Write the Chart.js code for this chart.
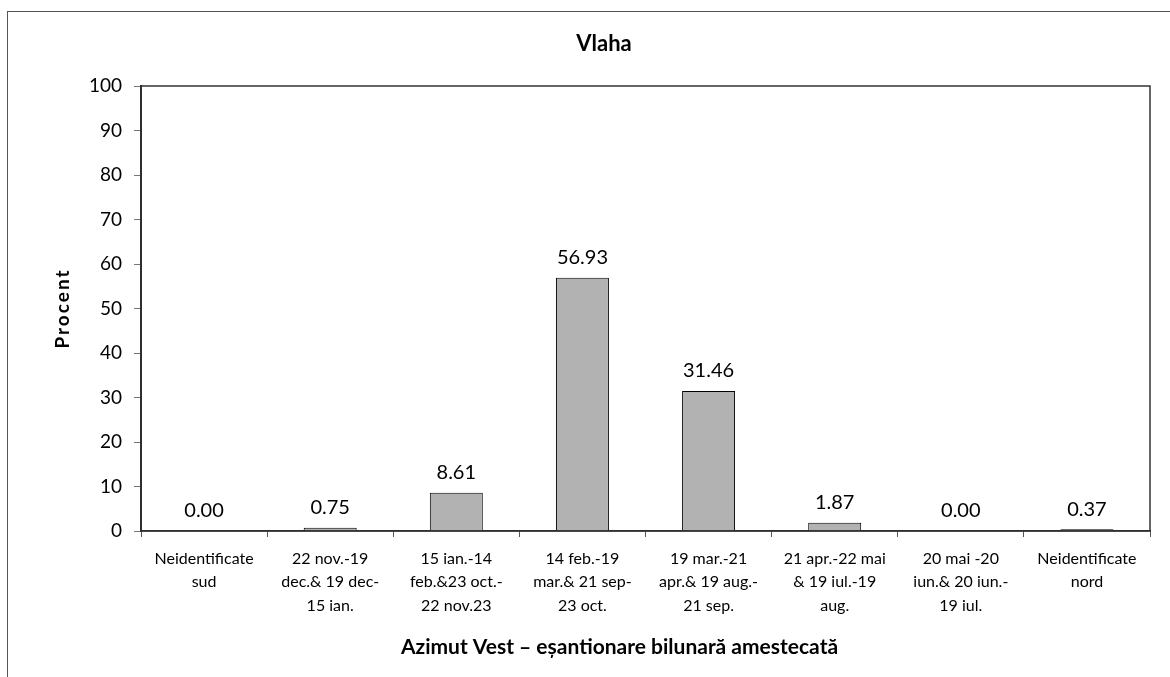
<!DOCTYPE html>
<html>
<head>
<meta charset="utf-8">
<script src="https://cdn.jsdelivr.net/npm/chart.js@4/dist/chart.umd.min.js"></script>
<style>
  body { margin: 0; background: #fff; overflow: hidden; }
  #wrap { position: relative; width: 1170px; height: 677px; }
  #frame { position: absolute; left: 7px; top: 11px; width: 1300px; height: 800px; border: 1.5px solid #555; }
  canvas { position: absolute; left: 0; top: 0; }
</style>
</head>
<body>
<div id="wrap">
  <div id="frame"></div>
  <canvas id="myChart" width="1170" height="677"></canvas>
</div>
<script>
  const categories = [
    ['Neidentificate', 'sud'],
    ['22 nov.-19', 'dec.& 19 dec-', '15 ian.'],
    ['15 ian.-14', 'feb.&23 oct.-', '22 nov.23'],
    ['14 feb.-19', 'mar.& 21 sep-', '23 oct.'],
    ['19 mar.-21', 'apr.& 19 aug.-', '21 sep.'],
    ['21 apr.-22 mai', '& 19 iul.-19', 'aug.'],
    ['20 mai -20', 'iun.& 20 iun.-', '19 iul.'],
    ['Neidentificate', 'nord']
  ];
  const procente = [0.00, 0.75, 8.61, 56.93, 31.46, 1.87, 0.00, 0.37];
  const titlu = 'Vlaha';
  const titluX = 'Azimut Vest – eșantionare bilunară amestecată';
  const titluY = 'Procent';

  const font = 'Lato, "Open Sans", sans-serif';

  // etichete de valori deasupra barelor
  const valueLabels = {
    id: 'valueLabels',
    afterDatasetsDraw(chart) {
      const ctx = chart.ctx;
      const meta = chart.getDatasetMeta(0);
      ctx.save();
      ctx.font = '20px ' + font;
      ctx.fillStyle = '#000';
      ctx.textAlign = 'center';
      ctx.textBaseline = 'middle';
      meta.data.forEach((bar, i) => {
        ctx.fillText(procente[i].toFixed(2), bar.x, bar.y - 20);
      });
      ctx.restore();
    }
  };

  // chenarul zonei de desen
  const plotBorder = {
    id: 'plotBorder',
    afterDraw(chart) {
      const a = chart.chartArea;
      const ctx = chart.ctx;
      ctx.save();
      ctx.strokeStyle = '#333';
      ctx.lineWidth = 1.5;
      ctx.strokeRect(a.left, a.top, a.right - a.left, a.bottom - a.top);
      ctx.restore();
    }
  };

  const ctx = document.getElementById('myChart').getContext('2d');

  const myChart = new Chart(ctx, {
    type: 'bar',
    data: {
      labels: categories,
      datasets: [{
        data: procente,
        backgroundColor: '#b2b2b2',
        borderColor: '#000',
        borderWidth: 1,
        categoryPercentage: 1,
        barPercentage: 0.42
      }]
    },
    options: {
      responsive: false,
      animation: false,
      layout: { padding: { left: 0, right: 20, top: 0, bottom: 0 } },
      plugins: {
        legend: { display: false },
        tooltip: { enabled: false },
        title: {
          display: true,
          text: titlu,
          color: '#000',
          font: { family: font, size: 22, weight: 'bold' },
          padding: { top: 31, bottom: 28.6 }
        }
      },
      scales: {
        x: {
          grid: { drawOnChartArea: false, color: '#555', tickLength: 6, offset: true },
          border: { color: '#222', width: 1.5 },
          ticks: {
            color: '#000',
            font: { family: font, size: 16, lineHeight: 1.47 },
            maxRotation: 0,
            autoSkip: false,
            padding: 10
          },
          title: {
            display: true,
            text: titluX,
            color: '#000',
            font: { family: font, size: 21, weight: 'bold' },
            padding: { top: 0, bottom: 17.4 }
          },
          afterFit(s) { s.height = 146; }
        },
        y: {
          min: 0,
          max: 100,
          ticks: {
            stepSize: 10,
            color: '#000',
            font: { family: font, size: 19 },
            padding: 12
          },
          grid: { drawOnChartArea: false, color: '#777', tickLength: 7 },
          border: { color: '#222', width: 2 },
          title: {
            display: true,
            text: titluY,
            color: '#000',
            font: { family: font, size: 19, weight: 'bold' },
            padding: { top: 51.6, bottom: 0 }
          },
          afterFit(s) { s.width = 141; }
        }
      }
    },
    plugins: [valueLabels, plotBorder]
  });

  // spatiere intre litere pentru titlul axei Y
  const yScale = myChart.scales.y;
  const origYTitle = yScale.drawTitle;
  yScale.drawTitle = function () {
    this.ctx.save();
    this.ctx.letterSpacing = '2px';
    origYTitle.apply(this, arguments);
    this.ctx.restore();
  };

  // titlul axei X si titlul graficului sunt centrate putin altfel in original
  const xScale = myChart.scales.x;
  const origXTitle = xScale.drawTitle;
  xScale.drawTitle = function () {
    this.ctx.save();
    this.ctx.translate(-26, 0);
    origXTitle.apply(this, arguments);
    this.ctx.restore();
  };
  const tb = myChart.titleBlock;
  const origTitleDraw = tb.draw;
  tb.draw = function () {
    this.ctx.save();
    this.ctx.translate(29, 0);
    origTitleDraw.apply(this, arguments);
    this.ctx.restore();
  };
  myChart.draw();
</script>
</body>
</html>
